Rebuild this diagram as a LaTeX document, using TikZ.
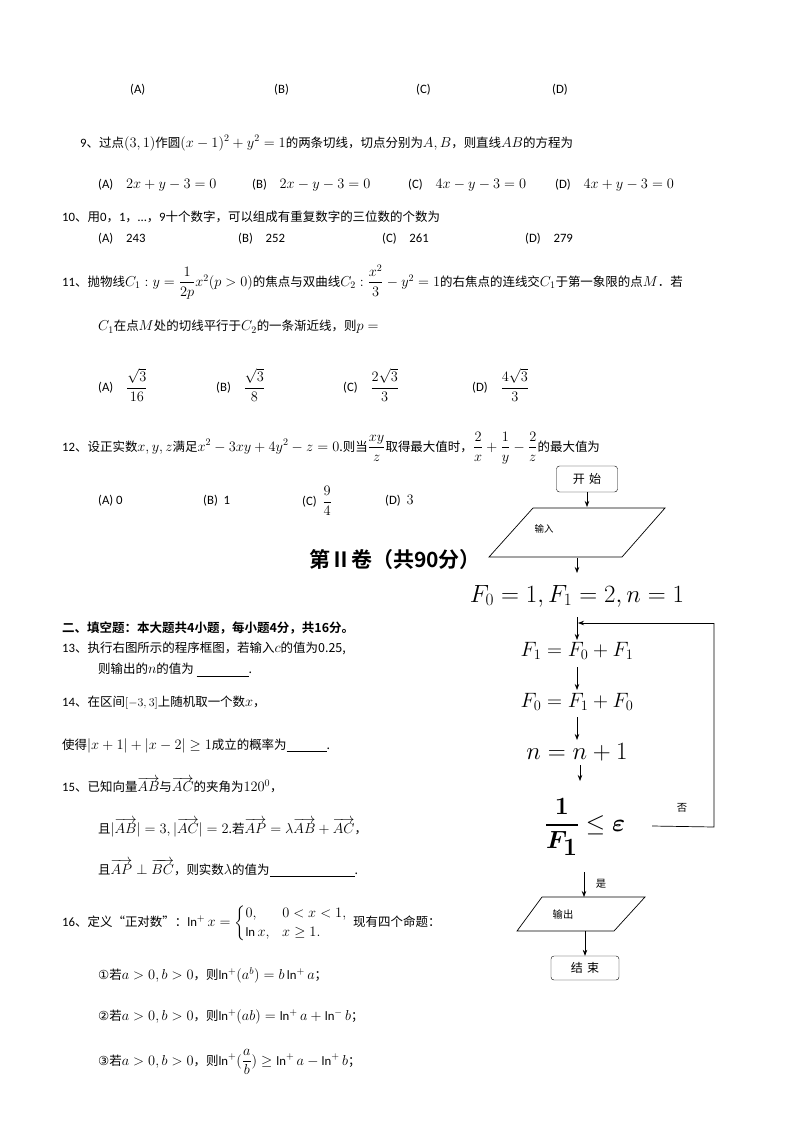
\documentclass[tikz,border=0pt]{standalone}
\usepackage{amsmath,amssymb}
\usepackage{fontspec}
\setmainfont{Carlito}[Scale=0.88]
\newfontfamily\cjk{Noto Sans CJK SC}[Scale=0.86]
\newfontfamily\cjkb{Noto Sans CJK SC Bold}
\newfontfamily\dv{DejaVu Sans}[Scale=0.86]
\usetikzlibrary{arrows.meta}
\begin{document}
\begin{tikzpicture}[x=1pt,y=-1pt,
  t/.style={anchor=west,inner sep=0pt,font=\fontsize{14.5}{16}\selectfont},
  box/.style={draw,rounded corners=3pt,minimum width=61pt,minimum height=26pt,font=\fontsize{14}{14}\cjk},
  arr/.style={-{Stealth[length=6pt,width=4.5pt]},line width=0.7pt},
  ln/.style={line width=0.7pt}]
\useasboundingbox (0,0) rectangle (800,1132);
\fill[white] (0,0) rectangle (800,1132);
% Q8 options
\node[t] (o8a) at (130,90) {(A)};
\node[t] (o8b) at (274,90) {(B)};
\node[t] (o8c) at (416,90) {(C)};
\node[t] (o8d) at (552,90) {(D)};
% Q9
\node[t] (q9) at (80,143) {9\cjk、过点$(3,1)$作圆$(x-1)^2+y^2=1$的两条切线，切点分别为$A,B$，则直线$AB$的方程为};
\node[t] (o9a) at (98,185) {(A)\quad $2x+y-3=0$};
\node[t] (o9b) at (252,185) {(B)\quad $2x-y-3=0$};
\node[t] (o9c) at (408,185) {(C)\quad $4x-y-3=0$};
\node[t] (o9d) at (555,185) {(D)\quad $4x+y-3=0$};
% Q10
\node[t] (q10) at (62,217) {10{\cjk、用}0{\cjk，}1{\cjk，}…{\cjk，}9{\cjk 十个数字，可以组成有重复数字的三位数的个数为}};
\node[t] (o10a) at (98,239) {(A)\quad 243};
\node[t] (o10b) at (238,239) {(B)\quad 252};
\node[t] (o10c) at (382,239) {(C)\quad 261};
\node[t] (o10d) at (525,239) {(D)\quad 279};
% Q11
\node[t] (q11) at (62,282) {11{\cjk、抛物线}$C_1:y=\dfrac{1}{2p}x^2(p>0)$\cjk 的焦点与双曲线$C_2:\dfrac{x^2}{3}-y^2=1$的右焦点的连线交$C_1$于第一象限的点$M$．若};
\node[t] (q11b) at (98,327) {\cjk $C_1$在点$M$处的切线平行于$C_2$的一条渐近线，则$p=$};
\node[t] (o11a) at (98,385) {(A)\quad $\dfrac{\sqrt3}{16}$};
\node[t] (o11b) at (216,385) {(B)\quad $\dfrac{\sqrt3}{8}$};
\node[t] (o11c) at (343,385) {(C)\quad $\dfrac{2\sqrt3}{3}$};
\node[t] (o11d) at (472,385) {(D)\quad $\dfrac{4\sqrt3}{3}$};
% Q12
\node[t] (q12) at (62,448) {12{\cjk、设正实数}$x,y,z$\cjk 满足$x^2-3xy+4y^2-z=0$.则当$\dfrac{xy}{z}$取得最大值时，$\dfrac{2}{x}+\dfrac{1}{y}-\dfrac{2}{z}$的最大值为};
\node[t] (o12a) at (98,501) {(A)\ 0};
\node[t] (o12b) at (203,501) {(B)\ \ 1};
\node[t] (o12c) at (302,501) {(C)\ \ $\dfrac94$};
\node[t] (o12d) at (385,501) {(D)\ \ $3$};
% Part II
\node[inner sep=0pt,font=\fontsize{21}{24}\cjkb] (p2) at (395,560) {第Ⅱ卷（共90分）};
\node[t,font=\fontsize{12.5}{14}\cjkb] (h2) at (62,628) {二、填空题：本大题共4小题，每小题4分，共16分。};
\node[t] (q13) at (62,648) {13{\cjk、执行右图所示的程序框图，若输入}$c$\cjk 的值为0.25,};
\node[t] (q13b) at (98,670) {\cjk 则输出的$n$的值为 \underline{\hspace{52pt}}.};
\node[t] (q14) at (62,703) {14{\cjk、在区间}{\large$[-3,3]$}\cjk 上随机取一个数$x$，};
\node[t] (q14b) at (62,746) {\cjk 使得$|x+1|+|x-2|\ge1$成立的概率为\underline{\hspace{40pt}}.};
\node[t] (q15) at (62,785) {15{\cjk、已知向量}$\overrightarrow{AB}$\cjk 与$\overrightarrow{AC}$的夹角为$120^0$，};
\node[t] (q15b) at (98,828) {\cjk 且$|\overrightarrow{AB}|=3,|\overrightarrow{AC}|=2$.若$\overrightarrow{AP}=\lambda\overrightarrow{AB}+\overrightarrow{AC}$，};
\node[t] (q15c) at (98,868) {\cjk 且$\overrightarrow{AP}\perp\overrightarrow{BC}$，则实数$\lambda$的值为\underline{\hspace{85pt}}.};
\node[t] (q16) at (62,923) {16{\cjk、定义“正对数”：}$\ln^+x=\begin{cases}0, & 0<x<1,\\ \ln x, & x\ge1.\end{cases}$\ \ {\cjk 现有四个命题：}};
\node[t] (s1) at (98,975) {{\dv ①}\cjk 若$a>0,b>0$，则$\ln^+(a^b)=b\ln^+a$；};
\node[t] (s2) at (98,1017) {{\dv ②}\cjk 若$a>0,b>0$，则$\ln^+(ab)=\ln^+a+\ln^-b$；};
\node[t] (s3) at (98,1062) {{\dv ③}\cjk 若$a>0,b>0$，则$\ln^+(\dfrac ab)\ge\ln^+a-\ln^+b$；};
% flowchart
\node[box] (start) at (587,479) {开\,\,始};
\draw[ln] (533,508) -- (665,508) -- (622,557) -- (489,557) -- cycle;
\node[font=\fontsize{11}{12}\cjk] (inlab) at (544,529) {输入};
\node[inner sep=0pt,font=\fontsize{25}{28}\selectfont] (init) at (577,596) {$F_0=1,F_1=2,n=1$};
\coordinate (merge) at (578,623);
\node[inner sep=0pt,font=\fontsize{20}{24}\selectfont] (s1f) at (577,651) {$F_1=F_0+F_1$};
\node[inner sep=0pt,font=\fontsize{20}{24}\selectfont] (s2f) at (577,702) {$F_0=F_1+F_0$};
\node[inner sep=0pt,font=\fontsize{25}{28}\selectfont] (s3f) at (577,752) {$n=n+1$};
\node[inner sep=0pt,font=\fontsize{36}{38}\selectfont] (cond) at (585,827) {$\dfrac{\boldsymbol{1}}{\boldsymbol{F_1}}\le\boldsymbol{\varepsilon}$};
\coordinate (cr) at (652,826);
\coordinate (c1) at (714,827);
\coordinate (c2) at (714,623);
\node[font=\fontsize{12}{12}\cjk] (no) at (682,808) {否};
\node[font=\fontsize{12}{12}\cjk] (yes) at (601,884) {是};
\draw[ln] (542,897) -- (645,897) -- (614,931) -- (517,931) -- cycle;
\node[font=\fontsize{12}{12}\cjk] (outlab) at (563,915) {输出};
\node[box,minimum width=68pt,minimum height=24pt] (end) at (585,968) {结\,\,束};
\draw[arr] (start.south) -- (587,507);
\draw[arr] (577,558) -- (577,573);
\draw[arr] (577,617) -- (577,640);
\draw[arr] (577,667) -- (577,690);
\draw[arr] (577,717) -- (577,740);
\draw[arr] (580,765) -- (580,781);
\draw[ln] (cr) -- (c1) -- (c2);
\draw[arr] (c2) -- (merge);
\draw[arr] (584,872) -- (584,897);
\draw[arr] (585,931) -- (end.north);
\end{tikzpicture}
\end{document}
